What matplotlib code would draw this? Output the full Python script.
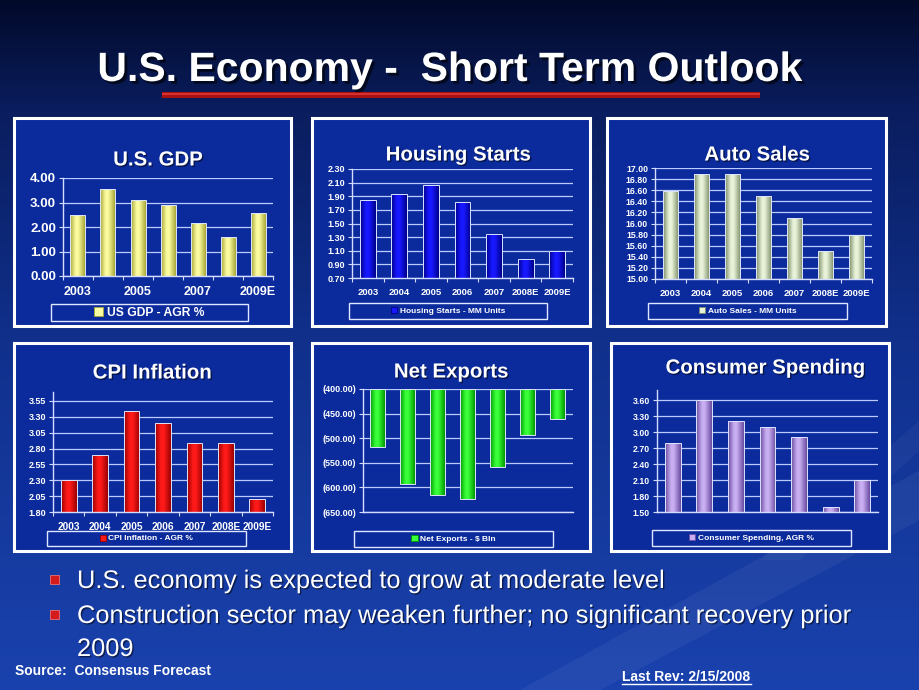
import numpy as np
import matplotlib
matplotlib.use('Agg')
import matplotlib.pyplot as plt
from matplotlib.patches import Rectangle, Polygon
from matplotlib.colors import LinearSegmentedColormap, to_rgb
import matplotlib.patheffects as pe

plt.rcParams['font.family'] = ['Liberation Sans', 'DejaVu Sans']

# ---------------- data ----------------
years = ['2003', '2004', '2005', '2006', '2007', '2008E', '2009E']
gdp_xlabels = ['2003', '', '2005', '', '2007', '', '2009E']
gdp = [2.50, 3.56, 3.10, 2.89, 2.18, 1.59, 2.56]
housing = [1.85, 1.94, 2.07, 1.81, 1.34, 0.98, 1.10]
auto = [16.59, 16.89, 16.89, 16.50, 16.10, 15.51, 15.80]
cpi = [2.30, 2.70, 3.39, 3.20, 2.89, 2.89, 2.00]
net_exports = [-518, -593, -616, -623, -559, -493, -460]
consumer = [2.79, 3.60, 3.21, 3.10, 2.90, 1.59, 2.10]

gdp_ticks = [0.0, 1.0, 2.0, 3.0, 4.0]
housing_ticks = [0.70, 0.90, 1.10, 1.30, 1.50, 1.70, 1.90, 2.10, 2.30]
auto_ticks = [15.00, 15.20, 15.40, 15.60, 15.80, 16.00, 16.20, 16.40, 16.60, 16.80, 17.00]
cpi_ticks = [1.80, 2.05, 2.30, 2.55, 2.80, 3.05, 3.30, 3.55]
net_ticks = [-650, -600, -550, -500, -450, -400]
consumer_ticks = [1.50, 1.80, 2.10, 2.40, 2.70, 3.00, 3.30, 3.60]

W, H = 920, 690
fig = plt.figure(figsize=(W / 100, H / 100), dpi=100)


def frect(x0, y0, x1, y1):
    return [x0 / W, 1 - y1 / H, (x1 - x0) / W, (y1 - y0) / H]


# ---------------- background ----------------
bg = fig.add_axes([0, 0, 1, 1], zorder=0)
stops_y = [0, 110, 340, 690]
stops_c = ['#020a2a', '#0a1d5e', '#10308c', '#1a42ae']
yy = np.linspace(0, H, 400)
cols = np.array([to_rgb(c) for c in stops_c])
grad = np.stack([np.interp(yy, stops_y, cols[:, i]) for i in range(3)], axis=-1)[:, None, :]
bg.imshow(grad, extent=[0, W, H, 0], aspect='auto', interpolation='bilinear', zorder=0)
# faint diagonal streaks at lower right
bg.add_patch(Polygon([(520, 690), (920, 470), (920, 520), (600, 690)], closed=True,
                     facecolor='white', alpha=0.05, edgecolor='none', zorder=0.5))
bg.add_patch(Polygon([(760, 560), (920, 420), (920, 450), (800, 560)], closed=True,
                     facecolor='white', alpha=0.04, edgecolor='none', zorder=0.5))
bg.set_xlim(0, W)
bg.set_ylim(H, 0)
bg.axis('off')

shadow = [pe.withSimplePatchShadow(offset=(2, -2), shadow_rgbFace='black', alpha=0.6)]
shadow_s = [pe.withSimplePatchShadow(offset=(1, -1), shadow_rgbFace='black', alpha=0.5)]

# slide title
bg.text(450, 81, 'U.S. Economy -  Short Term Outlook', ha='center', va='baseline',
        fontsize=29.5, fontweight='bold', color='white', path_effects=shadow, zorder=3)
bg.add_patch(Rectangle((162, 92), 598, 6, facecolor='#a81212', edgecolor='none', zorder=2))
bg.add_patch(Rectangle((162, 92.5), 598, 2, facecolor='#d83030', edgecolor='none', zorder=2))


def shade(ax, bars, dark, light):
    cmap = LinearSegmentedColormap.from_list(
        'cyl', [(0.0, dark), (0.38, light), (0.55, light), (1.0, dark)], N=256)
    for b in bars:
        x, y = b.get_xy()
        w, h = b.get_width(), b.get_height()
        im = ax.imshow(np.linspace(0, 1, 100).reshape(1, -1), cmap=cmap,
                       extent=[x, x + w, y, y + h], aspect='auto',
                       interpolation='bilinear', zorder=2)
        im.set_clip_path(b)
        b.set_facecolor('none')
        b.set_zorder(3)


def chart(box, axr, title, title_xy, values, base, ylim, yticks, ylabels,
          xlabels, ysize, xsize, dark, light, lbox, label, lsize, xticks_marks=True):
    # panel
    x0, y0, x1, y1 = box
    bg.add_patch(Rectangle((x0, y0), x1 - x0, y1 - y0, facecolor='#0b2b9c',
                           edgecolor='white', lw=2.2, zorder=1))
    bg.text(title_xy[0], title_xy[1], title, ha='center', va='center', fontsize=14.7,
            fontweight='bold', color='white', path_effects=shadow_s, zorder=3)
    lx0, ly0, lx1, ly1 = lbox
    bg.add_patch(Rectangle((lx0, ly0), lx1 - lx0, ly1 - ly0, facecolor='none',
                           edgecolor='#dfe6ff', lw=1.0, zorder=2))

    ax = fig.add_axes(frect(*axr), zorder=2)
    ax.set_facecolor('none')
    x = np.arange(len(values))
    bars = ax.bar(x, np.array(values) - base, bottom=base, width=0.5,
                  edgecolor='#dce3ff', lw=0.7)
    shade(ax, bars, dark, light)
    ax.set_xlim(-0.5, len(values) - 0.5)
    ax.set_ylim(*ylim)
    ax.set_yticks(yticks, ylabels)
    ax.yaxis.grid(True, color='#bccbff', lw=0.9)
    ax.set_axisbelow(True)
    for s in ['top', 'right']:
        ax.spines[s].set_visible(False)
    for s in ['left', 'bottom']:
        ax.spines[s].set_color('#d4dcff')
        ax.spines[s].set_linewidth(1.0)
    ax.tick_params(axis='y', colors='#d4dcff', labelcolor='white', length=3, width=0.8,
                   labelsize=ysize, pad=2)
    for t in ax.get_yticklabels():
        t.set_fontweight('bold')
    if xlabels is not None:
        ax.set_xticks(x, xlabels)
        ax.tick_params(axis='x', length=0, labelcolor='white', labelsize=xsize, pad=7)
        for t in ax.get_xticklabels():
            t.set_fontweight('bold')
    else:
        ax.set_xticks([])
    if xticks_marks:
        ax.set_xticks(np.arange(-0.5, len(values)), minor=True)
        ax.tick_params(axis='x', which='minor', length=3, color='#d4dcff', width=0.8)
    proxy = Rectangle((0, 0), 1, 1, facecolor=light, edgecolor=dark, lw=0.6)
    ax.legend(handles=[proxy], labels=[label], loc='center',
              bbox_to_anchor=((lx0 + lx1) / 2 / W, 1 - (ly0 + ly1) / 2 / H),
              bbox_transform=fig.transFigure, frameon=False,
              prop=dict(weight='bold', size=lsize), labelcolor='white',
              handlelength=0.75, handleheight=0.75, handletextpad=0.3,
              borderpad=0, borderaxespad=0)
    return ax


def fmt2(v):
    return '{:.2f}'.format(v)


chart((14, 118, 291, 326), (63, 178, 273, 276), 'U.S. GDP', (158, 160), gdp, 0.0,
      (0, 4), gdp_ticks, [fmt2(v) for v in gdp_ticks], gdp_xlabels, 9.5, 9,
      '#a8a838', '#fbfba0', (51, 304, 248, 321), 'US GDP - AGR %', 8.7)

chart((312, 118, 590, 326), (352, 169, 573, 278), 'Housing Starts', (458, 155), housing, 0.70,
      (0.70, 2.30), housing_ticks, [fmt2(v) for v in housing_ticks], years, 6.5, 6.8,
      '#00008a', '#1818ff', (349, 303, 547, 319), 'Housing Starts - MM Units', 6)

chart((607, 118, 886, 326), (655, 168, 872, 279), 'Auto Sales', (757, 155), auto, 15.0,
      (15.0, 17.0), auto_ticks, [fmt2(v) for v in auto_ticks], years, 6.3, 6.8,
      '#7a8c66', '#e8f2d8', (648, 303, 847, 319), 'Auto Sales - MM Units', 6)

chart((14, 343, 291, 551), (53, 392, 273, 512), 'CPI Inflation', (152, 373), cpi, 1.80,
      (1.80, 3.69), cpi_ticks, [fmt2(v) for v in cpi_ticks], years, 6.5, 7.3,
      '#9a0000', '#ff1a1a', (47, 531, 246, 546), 'CPI Inflation - AGR %', 6)

chart((312, 343, 590, 551), (363, 389, 573, 512), 'Net Exports', (451, 372), net_exports, -400,
      (-650, -400), net_ticks, ['({:.2f})'.format(-v) for v in net_ticks], None, 6.5, 7,
      '#009a00', '#3aff3a', (354, 531, 553, 547), 'Net Exports - \\$ Bln', 6,
      xticks_marks=False)

chart((611, 343, 889, 551), (657, 390, 878, 512), 'Consumer Spending', (765, 368), consumer, 1.50,
      (1.50, 3.79), consumer_ticks, [fmt2(v) for v in consumer_ticks], None, 6.3, 7,
      '#6a4ca0', '#c9aef2', (652, 530, 851, 546), 'Consumer Spending, AGR %', 6,
      xticks_marks=False)

# ---------------- bullets and footer ----------------
bullets = [(588, 'U.S. economy is expected to grow at moderate level'),
           (623, 'Construction sector may weaken further; no significant recovery prior')]
for yb, txt in bullets:
    bg.add_patch(Rectangle((50, yb - 13), 9, 9, facecolor='#d41a1a', edgecolor='#ff8080',
                           lw=0.5, zorder=3))
    bg.text(77, yb, txt, ha='left', va='baseline', fontsize=18.3, color='white',
            path_effects=shadow_s, zorder=3)
bg.text(77, 656, '2009', ha='left', va='baseline', fontsize=18.3, color='white',
        path_effects=shadow_s, zorder=3)

bg.text(15, 675, 'Source:  Consensus Forecast', ha='left', va='baseline', fontsize=10,
        fontweight='bold', color='white', zorder=3)
bg.text(622, 681, 'Last Rev: 2/15/2008', ha='left', va='baseline', fontsize=10,
        fontweight='bold', color='white', zorder=3)
bg.plot([622, 751], [684, 684], color='white', lw=1, zorder=3)

fig.savefig('out.png', dpi=100)
